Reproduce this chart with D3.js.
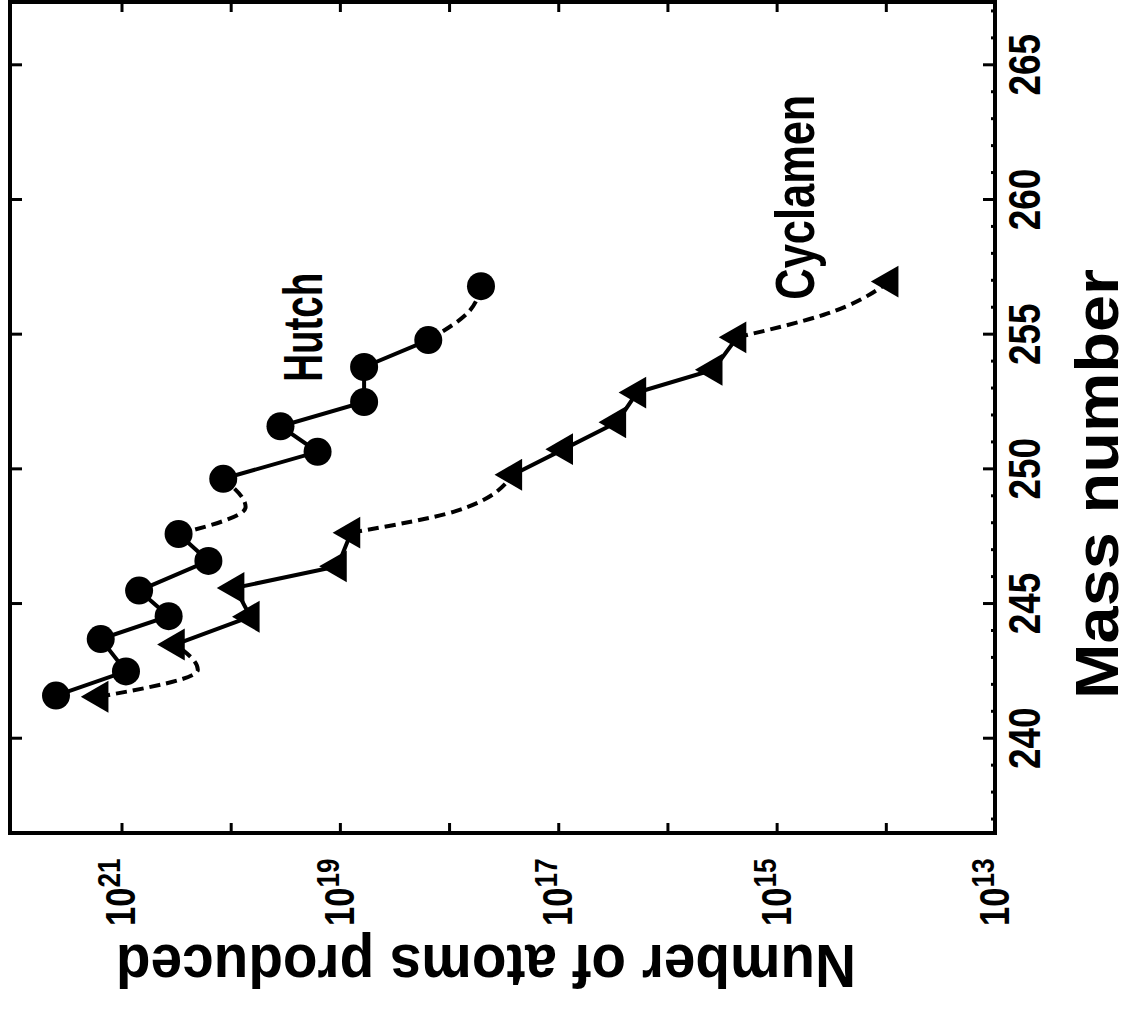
<!DOCTYPE html>
<html>
<head>
<meta charset="utf-8">
<script src="https://cdn.jsdelivr.net/npm/d3@7"></script>
<style>
  body { margin: 0; background: #fff; }
  svg text {
    font-family: "Liberation Sans", Arial, sans-serif;
    font-weight: bold;
    fill: #000;
  }
</style>
</head>
<body>
<div id="chart"></div>
<script>
// Hutch (circles)
const hutchMass = [241.6, 242.5, 243.7, 244.55, 245.5, 246.6, 247.6, 249.65, 250.65, 251.6, 252.5, 253.8, 254.8, 256.8];
const hutchAtoms = [3.98e21, 9.1e20, 1.55e21, 3.7e20, 6.9e20, 1.6e20, 3.0e20, 1.17e20, 1.6e19, 3.5e19, 6.0e18, 6.0e18, 1.55e18, 5.1e17];
const hutchSolidRuns = [[0, 6], [7, 12]];
const hutchDashMass = [[247.6, 248.6, 249.65], [254.8, 255.85, 256.8]];
const hutchDashAtoms = [[3.0e20, 7.3e19, 1.17e20], [1.55e18, 6.6e17, 5.1e17]];

// Cyclamen (triangles)
const cycMass = [241.56, 243.5, 244.53, 245.6, 246.4, 247.65, 249.8, 250.75, 251.75, 252.85, 253.7, 254.9, 256.97];
const cycAtoms = [1.6e21, 3.2e20, 6.6e19, 9.1e19, 1.05e19, 7.9e18, 2.6e17, 8.9e16, 2.9e16, 1.9e16, 3.8e15, 2.3e15, 9.3e13];
const cycSolidRuns = [[1, 5], [6, 11]];
const cycDashMass = [[241.56, 242.56, 243.5], [247.65, 248.45, 249.8], [254.9, 255.74, 256.97]];
const cycDashAtoms = [[1.6e21, 2.0e20, 3.2e20], [7.9e18, 8.7e17, 2.6e17], [2.3e15, 3.7e14, 9.3e13]];

// Axes
const massMajor = [240, 245, 250, 255, 260, 265];
const massMinor = d3.range(237, 268).filter(d => d % 5 !== 0);
const decadeExps = [13, 14, 15, 16, 17, 18, 19, 20, 21];
const labelExps = [13, 15, 17, 19, 21];

// Series labels
const seriesNames = ["Hutch", "Cyclamen"];
const seriesLabelMass = [253.25, 256.3];
const seriesLabelAtoms = [1.45e19, 4.5e14];
const seriesLabelLength = [109, 205];

const width = 1132;
const height = 1014;
// chart is built in its upright orientation, then turned a quarter turn
const plotW = 831;
const plotH = 985;
const narrow = 0.82; // squeeze text to look like a condensed face

const svg = d3.select("#chart")
  .append("svg")
  .attr("width", width)
  .attr("height", height);

const g = svg.append("g").attr("transform", "translate(10,833) rotate(-90)");

const x = d3.scaleLinear().domain([236.5, 267.35]).range([0, plotW]);
const y = d3.scaleLog().domain([1.05e22, 1e13]).range([0, plotH]);

// mass axis (bottom in upright orientation)
const xAxis = g.append("g")
  .attr("transform", `translate(0,${plotH})`)
  .call(d3.axisBottom(x).tickValues(massMajor).tickSize(-12).tickPadding(13).tickFormat(d3.format("d")));
xAxis.selectAll("text")
  .style("font-size", "45px")
  .attr("transform", `scale(${narrow},1)`);

g.append("g")
  .attr("transform", `translate(0,${plotH})`)
  .call(d3.axisBottom(x).tickValues(massMinor).tickSize(-4).tickFormat(""));

g.append("g")
  .call(d3.axisTop(x).tickValues(massMajor).tickSize(-12).tickFormat(""));

// atoms axis (left in upright orientation)
const yAxis = g.append("g")
  .call(d3.axisLeft(y).tickValues(decadeExps.map(e => Math.pow(10, e))).tickSize(-10).tickPadding(31).tickFormat(""));

yAxis.selectAll(".tick text").each(function (d) {
  const e = Math.round(Math.log10(d));
  if (!labelExps.includes(e)) return;
  const t = d3.select(this)
    .style("font-size", "42px")
    .attr("transform", `scale(${narrow},1)`);
  t.append("tspan").text("10");
  t.append("tspan").attr("dy", "-15").style("font-size", "32px").text(e);
});

g.append("g")
  .attr("transform", `translate(${plotW},0)`)
  .call(d3.axisRight(y).tickValues(decadeExps.map(e => Math.pow(10, e))).tickSize(-10).tickFormat(""));

g.selectAll(".domain").remove();
g.selectAll(".tick line").attr("stroke", "#000").attr("stroke-width", 3);

// frame
g.append("rect")
  .attr("x", 0)
  .attr("y", 0)
  .attr("width", plotW)
  .attr("height", plotH)
  .attr("fill", "none")
  .attr("stroke", "#000")
  .attr("stroke-width", 4);

// lines
const solidLine = d3.line().x(d => x(d[0])).y(d => y(d[1]));
const dashLine = d3.line().x(d => x(d[0])).y(d => y(d[1])).curve(d3.curveMonotoneX);

function drawSeries(mass, atoms, solidRuns, dashMass, dashAtoms) {
  solidRuns.forEach(([a, b]) => {
    const pts = d3.range(a, b + 1).map(i => [mass[i], atoms[i]]);
    g.append("path")
      .attr("d", solidLine(pts))
      .attr("fill", "none")
      .attr("stroke", "#000")
      .attr("stroke-width", 4);
  });
  dashMass.forEach((ms, k) => {
    const pts = ms.map((m, i) => [m, dashAtoms[k][i]]);
    g.append("path")
      .attr("d", dashLine(pts))
      .attr("fill", "none")
      .attr("stroke", "#000")
      .attr("stroke-width", 4)
      .attr("stroke-dasharray", "11,6");
  });
}

drawSeries(hutchMass, hutchAtoms, hutchSolidRuns, hutchDashMass, hutchDashAtoms);
drawSeries(cycMass, cycAtoms, cycSolidRuns, cycDashMass, cycDashAtoms);

// markers
g.selectAll("circle.hutch")
  .data(d3.range(hutchMass.length))
  .enter()
  .append("circle")
  .attr("class", "hutch")
  .attr("cx", i => x(hutchMass[i]))
  .attr("cy", i => y(hutchAtoms[i]))
  .attr("r", 14)
  .attr("fill", "#000");

const tri = d3.symbol().type(d3.symbolTriangle).size(440);
g.selectAll("path.cyc")
  .data(d3.range(cycMass.length))
  .enter()
  .append("path")
  .attr("class", "cyc")
  .attr("d", tri)
  .attr("transform", i => `translate(${x(cycMass[i])},${y(cycAtoms[i])})`)
  .attr("fill", "#000");

// series labels
seriesNames.forEach((name, i) => {
  g.append("text")
    .attr("x", x(seriesLabelMass[i]))
    .attr("y", y(seriesLabelAtoms[i]))
    .attr("textLength", seriesLabelLength[i])
    .attr("lengthAdjust", "spacingAndGlyphs")
    .style("font-size", "56px")
    .text(name);
});

// axis titles
g.append("text")
  .attr("x", 349)
  .attr("y", 1108)
  .attr("text-anchor", "middle")
  .attr("textLength", 430)
  .attr("lengthAdjust", "spacingAndGlyphs")
  .style("font-size", "62px")
  .text("Mass number");

g.append("text")
  .attr("transform", "translate(-112,476) rotate(-90)")
  .attr("text-anchor", "middle")
  .attr("textLength", 740)
  .attr("lengthAdjust", "spacingAndGlyphs")
  .style("font-size", "62px")
  .text("Number of atoms produced");
</script>
</body>
</html>
